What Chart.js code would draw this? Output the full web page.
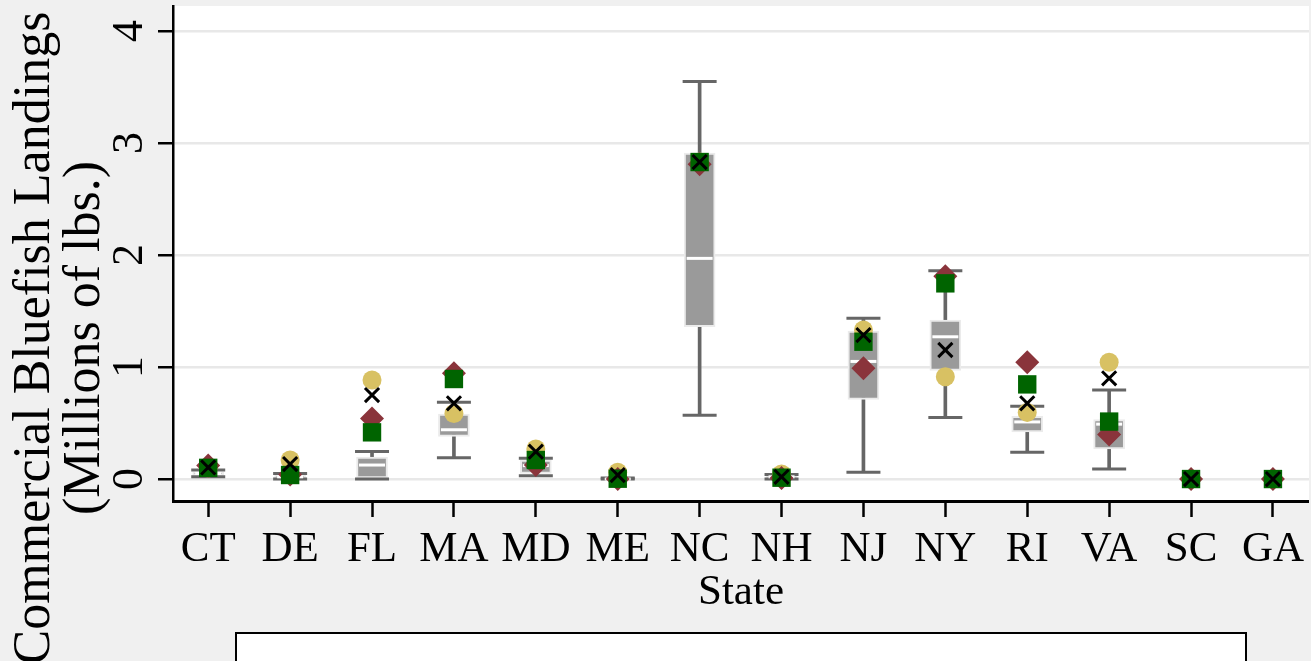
<!DOCTYPE html>
<html>
<head>
<meta charset="utf-8">
<script src="https://cdn.jsdelivr.net/npm/chart.js@4.4.0/dist/chart.umd.min.js"></script>
<style>
html, body { margin: 0; padding: 0; background: #f0f0f0; overflow: hidden; }
#wrap { width: 1311px; height: 661px; position: relative; }
</style>
</head>
<body>
<div id="wrap"><canvas id="chart"></canvas></div>
<script>
var states = ['CT', 'DE', 'FL', 'MA', 'MD', 'ME', 'NC', 'NH', 'NJ', 'NY', 'RI', 'VA', 'SC', 'GA'];
var yTicks = [0, 1, 2, 3, 4];

// box plot summary per state (millions of lbs.), no box for SC and GA
var whiskerLow  = [0.02, 0.00, 0.00, 0.19, 0.03, 0.00, 0.57, 0.00, 0.06, 0.55, 0.24, 0.09, null, null];
var boxLow      = [0.035, 0.005, 0.01, 0.38, 0.05, 0.00, 1.36, 0.005, 0.71, 0.97, 0.42, 0.27, null, null];
var boxMedian   = [0.05, 0.02, 0.125, 0.44, 0.12, 0.00, 1.97, 0.02, 1.05, 1.27, 0.51, 0.49, null, null];
var boxHigh     = [0.06, 0.04, 0.195, 0.58, 0.17, 0.005, 2.91, 0.03, 1.32, 1.42, 0.56, 0.53, null, null];
var whiskerHigh = [0.08, 0.05, 0.245, 0.685, 0.185, 0.01, 3.55, 0.04, 1.435, 1.86, 0.65, 0.795, null, null];

// overlaid markers
var circleVals  = [0.10, 0.17, 0.884, 0.585, 0.268, 0.06, 2.83, 0.045, 1.33, 0.913, 0.595, 1.042, 0, 0];
var diamondVals = [0.12, 0.04, 0.54, 0.944, 0.125, 0.00, 2.81, 0.01, 0.988, 1.81, 1.042, 0.398, 0, 0];
var squareVals  = [0.10, 0.036, 0.417, 0.893, 0.17, 0.003, 2.83, 0.012, 1.226, 1.747, 0.845, 0.513, 0, 0];
var crossVals   = [0.104, 0.134, 0.75, 0.676, 0.244, 0.036, 2.83, 0.02, 1.285, 1.152, 0.676, 0.899, 0, 0];

var serif = "'Liberation Serif', 'Times New Roman', serif";

function pts(vals) {
  var out = [];
  vals.forEach(function(v, i) { if (v !== null) out.push({ x: i, y: v }); });
  return out;
}
function ranges(lo, hi) {
  var out = [];
  lo.forEach(function(v, i) { if (v !== null) out.push({ x: i, y: [v, hi[i]] }); });
  return out;
}

// plot background, rotated y labels, y title and legend frame
var decor = {
  id: 'decor',
  beforeDraw: function(chart) {
    var ctx = chart.ctx, a = chart.chartArea;
    ctx.save();
    ctx.fillStyle = '#ffffff';
    ctx.fillRect(a.left, a.top, a.right - a.left, a.bottom - a.top);
    ctx.restore();
  },
  afterDraw: function(chart) {
    var ctx = chart.ctx, y = chart.scales.y;
    ctx.save();
    ctx.fillStyle = '#000';
    ctx.textAlign = 'center';
    ctx.textBaseline = 'alphabetic';
    ctx.font = '44px ' + serif;
    yTicks.forEach(function(v) {
      ctx.save();
      ctx.translate(142, y.getPixelForValue(v));
      ctx.rotate(-Math.PI / 2);
      ctx.fillText(String(v), 0, 0);
      ctx.restore();
    });
    ctx.font = '52px ' + serif;
    ctx.save();
    ctx.translate(49, 338);
    ctx.rotate(-Math.PI / 2);
    ctx.fillText('Commercial Bluefish Landings', 0, 0);
    ctx.fillText('(Millions of lbs.)', 0, 50);
    ctx.restore();
    // legend frame (its contents fall below the picture)
    ctx.fillStyle = '#ffffff';
    ctx.fillRect(237, 634, 1008, 40);
    ctx.strokeStyle = '#000';
    ctx.lineWidth = 2;
    ctx.strokeRect(236, 633, 1010, 42);
    ctx.restore();
  }
};

var ctx = document.getElementById('chart').getContext('2d');
var myChart = new Chart(ctx, {
  type: 'bar',
  data: {
    datasets: [{
      label: 'whisker',
      data: ranges(whiskerLow, whiskerHigh),
      backgroundColor: '#666666',
      barThickness: 3,
      grouped: false,
      order: 10
    }, {
      label: 'box',
      data: ranges(boxLow, boxHigh),
      backgroundColor: '#9a9a9a',
      borderColor: '#ebebeb',
      borderWidth: 2,
      borderSkipped: false,
      barThickness: 31,
      grouped: false,
      order: 9
    }, {
      type: 'scatter',
      label: 'caps',
      data: pts(whiskerLow).concat(pts(whiskerHigh)),
      pointStyle: 'line',
      radius: 17,
      borderColor: '#666666',
      borderWidth: 3,
      order: 8
    }, {
      type: 'scatter',
      label: 'median',
      data: pts(boxMedian),
      pointStyle: 'line',
      radius: 13,
      borderColor: '#ffffff',
      borderWidth: 3,
      order: 7
    }, {
      type: 'scatter',
      label: 'circle',
      data: pts(circleVals),
      pointStyle: 'circle',
      radius: 9.5,
      backgroundColor: '#d8c163',
      borderWidth: 0,
      order: 4
    }, {
      type: 'scatter',
      label: 'diamond',
      data: pts(diamondVals),
      pointStyle: 'rectRot',
      radius: 12,
      backgroundColor: '#8a343b',
      borderWidth: 0,
      order: 3
    }, {
      type: 'scatter',
      label: 'square',
      data: pts(squareVals),
      pointStyle: 'rect',
      radius: 13,
      backgroundColor: '#006400',
      borderWidth: 0,
      order: 2
    }, {
      type: 'scatter',
      label: 'cross',
      data: pts(crossVals),
      pointStyle: 'crossRot',
      radius: 10,
      borderColor: '#000000',
      borderWidth: 3,
      order: 1
    }]
  },
  options: {
    responsive: true,
    maintainAspectRatio: false,
    animation: false,
    layout: { autoPadding: false, padding: { top: 6, left: 0, right: 0, bottom: 0 } },
    plugins: {
      legend: { display: false },
      tooltip: { enabled: false }
    },
    scales: {
      x: {
        type: 'linear',
        min: -0.43,
        max: 13.44,
        offset: false,
        afterBuildTicks: function(scale) {
          scale.ticks = states.map(function(s, i) { return { value: i }; });
        },
        afterFit: function(scale) { scale.height = 160; },
        ticks: {
          callback: function(v) { return states[v]; },
          font: { family: serif, size: 43 },
          color: '#000',
          padding: 7,
          maxRotation: 0,
          autoSkip: false
        },
        grid: { drawOnChartArea: false, tickLength: 16, tickColor: '#000', tickWidth: 2.5, offset: false },
        border: { color: '#000', width: 3 },
        title: {
          display: true,
          text: 'State',
          font: { family: serif, size: 43 },
          color: '#000',
          padding: { top: 0, bottom: 42 }
        }
      },
      y: {
        min: -0.196,
        max: 4.223,
        afterBuildTicks: function(scale) {
          scale.ticks = yTicks.map(function(v) { return { value: v }; });
        },
        afterFit: function(scale) { scale.width = 173; },
        ticks: { display: false },
        grid: { color: '#e8e8e8', lineWidth: 2.5, tickLength: 15, tickColor: '#000', tickWidth: 2.5 },
        border: { color: '#000', width: 2.5 }
      }
    }
  },
  plugins: [decor]
});
</script>
</body>
</html>
